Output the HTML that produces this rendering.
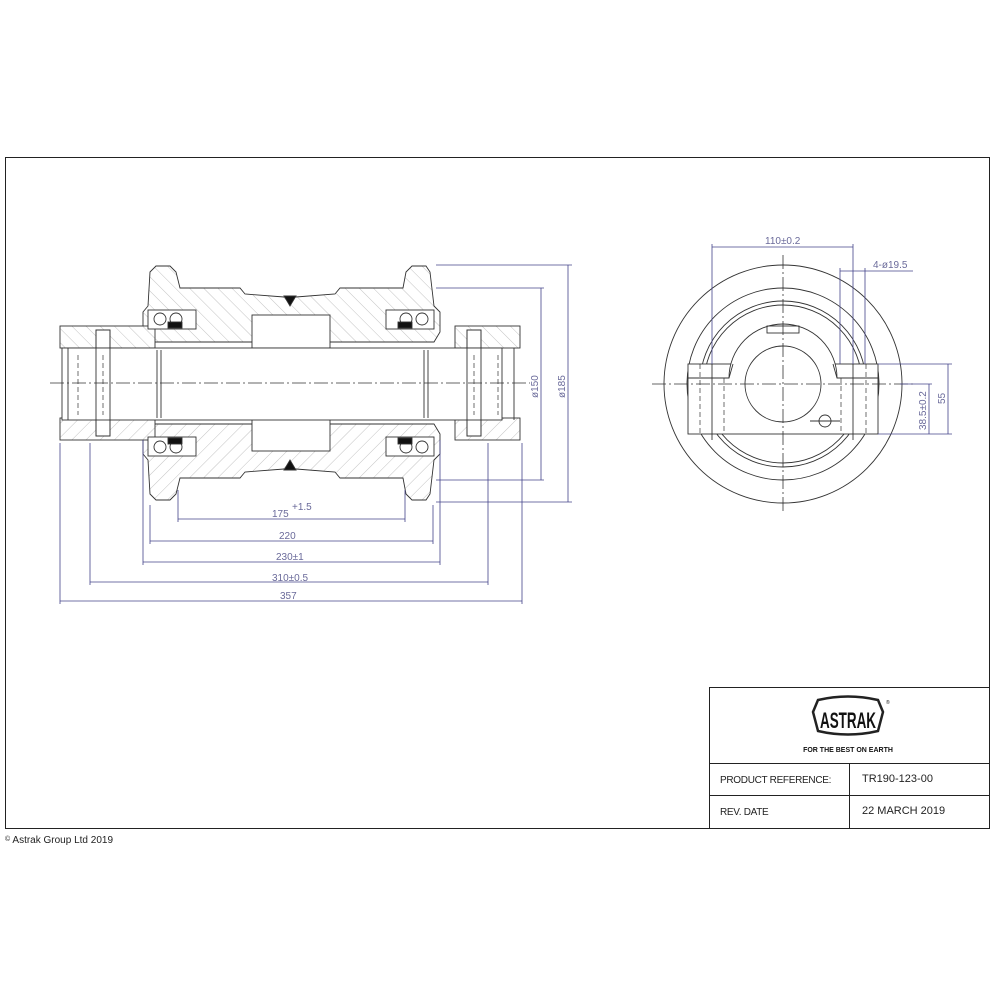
<!DOCTYPE html>
<html><head><meta charset="utf-8"><style>
html,body{margin:0;padding:0;background:#fff;}
svg{display:block;}
text{font-family:"Liberation Sans",sans-serif;}
.d{fill:#6a6a9a;font-size:10px;}
</style></head><body>
<svg width="1000" height="1000" viewBox="0 0 1000 1000" xmlns="http://www.w3.org/2000/svg">
<defs>
<pattern id="h" width="10" height="10" patternUnits="userSpaceOnUse" patternTransform="rotate(-45)">
<rect width="10" height="10" fill="#fff"/><line x1="0" y1="0" x2="0" y2="10" stroke="#aaa" stroke-width="0.7"/>
</pattern>
</defs>
<rect x="5.5" y="157.5" width="984" height="671" fill="none" stroke="#222" stroke-width="1"/>

<g id="up" stroke="#333" stroke-width="0.9">
<polygon fill="url(#h)" points="148,306 150,272 156,266 170,266 176,272 180,288 240,288 245,294 284,297 296,297 335,294 340,288 403,288 406,272 412,266 426,266 430,272 434,306 440,312 440,332 434,342 150,342 143,332 143,312"/>
<rect x="252" y="315" width="78" height="33" fill="#fff"/>
<rect x="60" y="326" width="95" height="22" fill="url(#h)"/>
<rect x="455" y="326" width="65" height="22" fill="url(#h)"/>
<rect x="96" y="330" width="14" height="18" fill="#fff"/>
<rect x="467" y="330" width="14" height="18" fill="#fff"/>
<rect x="148" y="310" width="48" height="19" fill="#fff"/>
<circle cx="160" cy="319" r="6" fill="#fff"/><circle cx="176" cy="319" r="6" fill="#fff"/>
<rect x="386" y="310" width="48" height="19" fill="#fff"/>
<circle cx="406" cy="319" r="6" fill="#fff"/><circle cx="422" cy="319" r="6" fill="#fff"/>
<rect x="168" y="322" width="14" height="6" fill="#111"/>
<rect x="398" y="322" width="14" height="6" fill="#111"/>
<polygon points="284,296 296,296 290,306" fill="#111"/>
</g>
<use href="#up" transform="translate(0,766) scale(1,-1)"/>
<g stroke="#333" stroke-width="0.9" fill="#fff">
<rect x="62" y="348" width="440" height="72"/>
<rect x="96" y="330" width="14" height="106" fill="none"/>
<rect x="467" y="330" width="14" height="106" fill="none"/>
<line x1="157" y1="350" x2="157" y2="418"/><line x1="161" y1="350" x2="161" y2="418"/>
<line x1="424" y1="350" x2="424" y2="418"/><line x1="428" y1="350" x2="428" y2="418"/>
<line x1="68" y1="348" x2="68" y2="420"/><line x1="514" y1="348" x2="514" y2="420"/>
</g>
<g stroke="#333" stroke-width="0.7" stroke-dasharray="5,3">
<line x1="78" y1="355" x2="78" y2="415"/><line x1="103" y1="355" x2="103" y2="415"/>
<line x1="474" y1="355" x2="474" y2="415"/><line x1="498" y1="355" x2="498" y2="415"/>
</g>
<line x1="50" y1="383" x2="530" y2="383" stroke="#333" stroke-width="0.8" stroke-dasharray="14,3,2,3"/>

<g stroke="#44448a" stroke-width="0.8" fill="none">
<line x1="178" y1="490" x2="178" y2="522"/><line x1="405" y1="490" x2="405" y2="522"/><line x1="178" y1="519" x2="405" y2="519"/>
<line x1="150" y1="505" x2="150" y2="544"/><line x1="433" y1="505" x2="433" y2="544"/><line x1="150" y1="541" x2="433" y2="541"/>
<line x1="143" y1="440" x2="143" y2="565"/><line x1="440" y1="440" x2="440" y2="565"/><line x1="143" y1="562" x2="440" y2="562"/>
<line x1="90" y1="443" x2="90" y2="585"/><line x1="488" y1="443" x2="488" y2="585"/><line x1="90" y1="582" x2="488" y2="582"/>
<line x1="60" y1="443" x2="60" y2="604"/><line x1="522" y1="443" x2="522" y2="604"/><line x1="60" y1="601" x2="522" y2="601"/>
<line x1="436" y1="288" x2="544" y2="288"/><line x1="436" y1="480" x2="544" y2="480"/><line x1="541" y1="288" x2="541" y2="480"/>
<line x1="436" y1="265" x2="572" y2="265"/><line x1="436" y1="502" x2="572" y2="502"/><line x1="568" y1="265" x2="568" y2="502"/>
</g>
<text class="d" x="272" y="517">175</text><text class="d" x="292" y="510" font-size="7">+1.5</text>
<text class="d" x="279" y="539">220</text>
<text class="d" x="276" y="560">230±1</text>
<text class="d" x="272" y="581">310±0.5</text>
<text class="d" x="280" y="599">357</text>
<text class="d" transform="translate(538,398) rotate(-90)">ø150</text>
<text class="d" transform="translate(565,398) rotate(-90)">ø185</text>

<g stroke="#333" stroke-width="0.9" fill="none">
<circle cx="783" cy="384" r="119"/>
<circle cx="783" cy="384" r="96"/>
<circle cx="783" cy="384" r="83"/>
<circle cx="783" cy="384" r="79"/>
<rect x="688" y="364" width="190" height="70" fill="#fff"/>
<path d="M729,378 A54,54 0 0 1 837,378 Z" fill="#fff" stroke="none"/>
<rect x="767" y="326" width="32" height="7" fill="#fff"/>
<path d="M729,378 A54,54 0 0 1 837,378"/>
<path d="M688,378 L729,378 L733,364 M878,378 L837,378 L833,364"/>
<circle cx="783" cy="384" r="38" fill="#fff"/>
<circle cx="825" cy="421" r="6"/>
<line x1="810" y1="421" x2="840" y2="421"/>
<line x1="712" y1="364" x2="712" y2="440"/><line x1="853" y1="364" x2="853" y2="440"/>
</g>
<g stroke="#333" stroke-width="0.7" stroke-dasharray="5,3">
<line x1="700" y1="364" x2="700" y2="434"/><line x1="724" y1="378" x2="724" y2="434"/>
<line x1="841" y1="378" x2="841" y2="434"/><line x1="866" y1="364" x2="866" y2="434"/>
</g>
<g stroke="#333" stroke-width="0.8" stroke-dasharray="14,3,2,3">
<line x1="652" y1="384" x2="915" y2="384"/><line x1="783" y1="255" x2="783" y2="512"/>
</g>
<g stroke="#44448a" stroke-width="0.8" fill="none">
<line x1="712" y1="244" x2="712" y2="364"/><line x1="853" y1="244" x2="853" y2="364"/><line x1="712" y1="247" x2="853" y2="247"/>
<line x1="840" y1="268" x2="840" y2="364"/><line x1="865" y1="268" x2="865" y2="364"/><line x1="840" y1="271" x2="913" y2="271"/>
<line x1="878" y1="364" x2="952" y2="364"/><line x1="878" y1="434" x2="952" y2="434"/><line x1="948" y1="364" x2="948" y2="434"/>
<line x1="900" y1="384" x2="932" y2="384"/><line x1="929" y1="384" x2="929" y2="434"/>
</g>
<text class="d" x="765" y="244">110±0.2</text>
<text class="d" x="873" y="268">4-ø19.5</text>
<text class="d" transform="translate(945,404) rotate(-90)">55</text>
<text class="d" transform="translate(926,430) rotate(-90)">38.5±0.2</text>

<g stroke="#222" stroke-width="1" fill="none">
<rect x="709.5" y="687.5" width="280" height="141"/>
<line x1="709" y1="763.5" x2="989" y2="763.5"/>
<line x1="709" y1="795.5" x2="989" y2="795.5"/>
<line x1="849.5" y1="763" x2="849.5" y2="828"/>
<path d="M818,700 Q848,693 878,700 L883,712 L878,731 Q848,738 818,731 L813,712 Z" stroke-width="2.5"/>
</g>
<text x="848" y="728" font-size="22" font-weight="bold" text-anchor="middle" textLength="56" lengthAdjust="spacingAndGlyphs" fill="#111">ASTRAK</text>
<text x="886" y="704" font-size="5" fill="#111">®</text>
<text x="848" y="752" font-size="7" font-weight="bold" text-anchor="middle" fill="#111">FOR THE BEST ON EARTH</text>
<text x="720" y="783" font-size="10" fill="#222" letter-spacing="-0.3">PRODUCT REFERENCE:</text>
<text x="862" y="782" font-size="11" fill="#222">TR190-123-00</text>
<text x="720" y="815" font-size="10" fill="#222" letter-spacing="-0.3">REV. DATE</text>
<text x="862" y="814" font-size="11" fill="#222">22 MARCH 2019</text>
<text x="5" y="843" font-size="10" fill="#222"><tspan font-size="7" dy="-2">©</tspan><tspan dy="2"> Astrak Group Ltd 2019</tspan></text>
</svg>
</body></html>
